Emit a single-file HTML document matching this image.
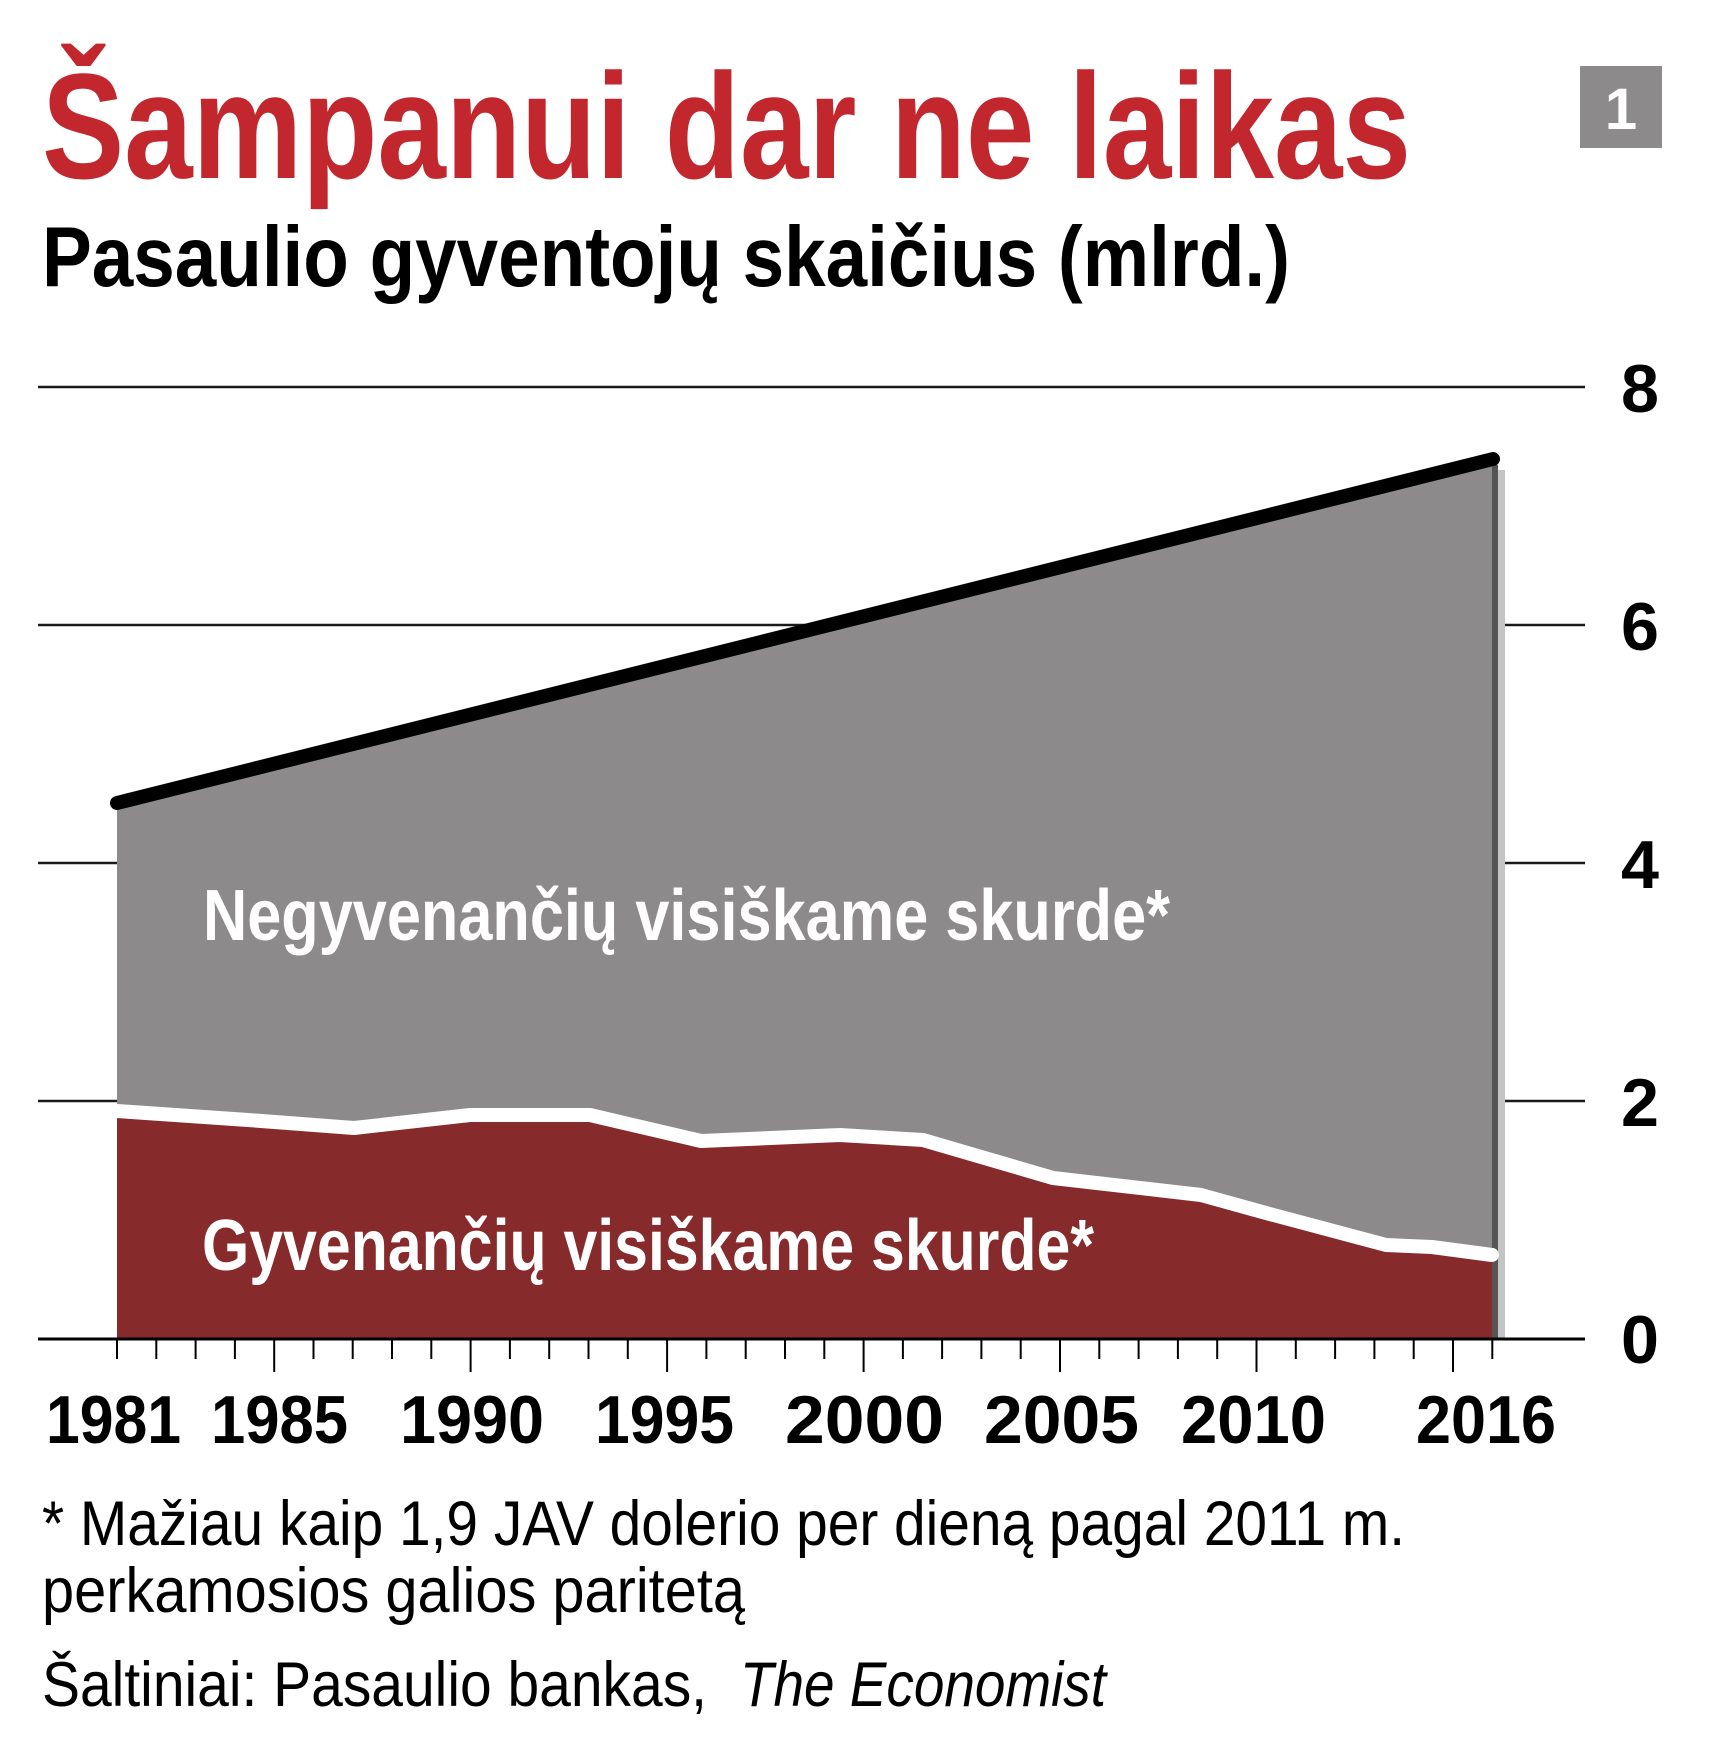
<!DOCTYPE html>
<html><head><meta charset="utf-8"><style>
html,body{margin:0;padding:0;background:#fff;}
svg{display:block;}
text{font-family:"Liberation Sans Narrow","Liberation Sans",sans-serif;}
</style></head><body>
<svg width="1719" height="1753" viewBox="0 0 1719 1753" xmlns="http://www.w3.org/2000/svg">
<rect width="1719" height="1753" fill="#fff"/>
<text x="42" y="178" font-size="150" font-weight="bold" fill="#c1272d" textLength="1369" lengthAdjust="spacingAndGlyphs">Šampanui dar ne laikas</text>
<text x="42" y="286" font-size="85" font-weight="bold" fill="#000" textLength="1248" lengthAdjust="spacingAndGlyphs">Pasaulio gyventojų skaičius (mlrd.)</text>
<rect x="1580" y="66" width="82" height="82" fill="#8c8a8b"/>
<text x="1621" y="129" font-size="58" font-weight="bold" fill="#fff" text-anchor="middle">1</text>

<g stroke="#1a1a1a" stroke-width="2.5">
<line x1="38" y1="387" x2="1585" y2="387"/>
<line x1="38" y1="625" x2="1585" y2="625"/>
<line x1="38" y1="863" x2="1585" y2="863"/>
<line x1="38" y1="1101" x2="1585" y2="1101"/>
</g>

<!-- gray area -->
<polygon points="117,803 1493,459 1493,1339 117,1339" fill="#8d8a8b"/>
<rect x="1492" y="465" width="6" height="874" fill="#555"/>
<rect x="1498" y="470" width="7" height="869" fill="#c4c4c4"/>
<!-- red area -->
<polygon points="117,1111 248,1120 354,1128 470,1115 590,1115 701,1141 840,1135 923,1140 1053,1178 1201,1195 1266,1213 1386,1245 1432,1247 1492,1255 1492,1339 117,1339" fill="#862a2c"/>
<polyline points="117,1111 248,1120 354,1128 470,1115 590,1115 701,1141 840,1135 923,1140 1053,1178 1201,1195 1266,1213 1386,1245 1432,1247 1492,1255" fill="none" stroke="#fff" stroke-width="14" stroke-linejoin="round" stroke-linecap="round"/>
<line x1="117" y1="803" x2="1493" y2="459" stroke="#000" stroke-width="14" stroke-linecap="round"/>

<line x1="38" y1="1339" x2="1585" y2="1339" stroke="#000" stroke-width="3"/>

<text x="203" y="940" font-size="72" font-weight="bold" fill="#fff" textLength="967" lengthAdjust="spacingAndGlyphs">Negyvenančių visiškame skurde*</text>
<text x="202" y="1270" font-size="72" font-weight="bold" fill="#fff" textLength="892" lengthAdjust="spacingAndGlyphs">Gyvenančių visiškame skurde*</text>

<g stroke="#000" stroke-width="2">
<line x1="117" y1="1339" x2="117" y2="1359"/><line x1="156.3" y1="1339" x2="156.3" y2="1359"/><line x1="195.6" y1="1339" x2="195.6" y2="1359"/><line x1="234.9" y1="1339" x2="234.9" y2="1359"/><line x1="274.2" y1="1339" x2="274.2" y2="1372"/><line x1="313.5" y1="1339" x2="313.5" y2="1359"/><line x1="352.7" y1="1339" x2="352.7" y2="1359"/><line x1="392" y1="1339" x2="392" y2="1359"/><line x1="431.3" y1="1339" x2="431.3" y2="1359"/><line x1="470.6" y1="1339" x2="470.6" y2="1372"/><line x1="509.9" y1="1339" x2="509.9" y2="1359"/><line x1="549.2" y1="1339" x2="549.2" y2="1359"/><line x1="588.5" y1="1339" x2="588.5" y2="1359"/><line x1="627.8" y1="1339" x2="627.8" y2="1359"/><line x1="667.1" y1="1339" x2="667.1" y2="1372"/><line x1="706.4" y1="1339" x2="706.4" y2="1359"/><line x1="745.7" y1="1339" x2="745.7" y2="1359"/><line x1="785" y1="1339" x2="785" y2="1359"/><line x1="824.3" y1="1339" x2="824.3" y2="1359"/><line x1="863.6" y1="1339" x2="863.6" y2="1372"/><line x1="902.9" y1="1339" x2="902.9" y2="1359"/><line x1="942.1" y1="1339" x2="942.1" y2="1359"/><line x1="981.4" y1="1339" x2="981.4" y2="1359"/><line x1="1020.7" y1="1339" x2="1020.7" y2="1359"/><line x1="1060" y1="1339" x2="1060" y2="1372"/><line x1="1099.3" y1="1339" x2="1099.3" y2="1359"/><line x1="1138.6" y1="1339" x2="1138.6" y2="1359"/><line x1="1177.9" y1="1339" x2="1177.9" y2="1359"/><line x1="1217.2" y1="1339" x2="1217.2" y2="1359"/><line x1="1256.5" y1="1339" x2="1256.5" y2="1372"/><line x1="1295.8" y1="1339" x2="1295.8" y2="1359"/><line x1="1335.1" y1="1339" x2="1335.1" y2="1359"/><line x1="1374.4" y1="1339" x2="1374.4" y2="1359"/><line x1="1413.7" y1="1339" x2="1413.7" y2="1359"/><line x1="1453" y1="1339" x2="1453" y2="1372"/><line x1="1492.3" y1="1339" x2="1492.3" y2="1359"/>
</g>

<g font-size="68" font-weight="bold" fill="#000" text-anchor="middle">
<text x="1640" y="412" textLength="38" lengthAdjust="spacingAndGlyphs">8</text>
<text x="1640" y="650" textLength="38" lengthAdjust="spacingAndGlyphs">6</text>
<text x="1640" y="888" textLength="38" lengthAdjust="spacingAndGlyphs">4</text>
<text x="1640" y="1126" textLength="38" lengthAdjust="spacingAndGlyphs">2</text>
<text x="1640" y="1363" textLength="38" lengthAdjust="spacingAndGlyphs">0</text>
</g>

<g font-size="68" font-weight="bold" fill="#000">
<text x="46" y="1443" textLength="135" lengthAdjust="spacingAndGlyphs">1981</text>
<text x="211" y="1443" textLength="137" lengthAdjust="spacingAndGlyphs">1985</text>
<text x="400" y="1443" textLength="144" lengthAdjust="spacingAndGlyphs">1990</text>
<text x="595" y="1443" textLength="139" lengthAdjust="spacingAndGlyphs">1995</text>
<text x="785" y="1443" textLength="159" lengthAdjust="spacingAndGlyphs">2000</text>
<text x="984" y="1443" textLength="155" lengthAdjust="spacingAndGlyphs">2005</text>
<text x="1181" y="1443" textLength="145" lengthAdjust="spacingAndGlyphs">2010</text>
<text x="1416" y="1443" textLength="140" lengthAdjust="spacingAndGlyphs">2016</text>
</g>

<g font-size="63" fill="#000">
<text x="42" y="1545" textLength="1363" lengthAdjust="spacingAndGlyphs">* Mažiau kaip 1,9 JAV dolerio per dieną pagal 2011 m.</text>
<text x="42" y="1612" textLength="703" lengthAdjust="spacingAndGlyphs">perkamosios galios paritetą</text>
<text x="42" y="1706" textLength="665" lengthAdjust="spacingAndGlyphs">Šaltiniai: Pasaulio bankas,</text>
<text x="740" y="1706" font-style="italic" textLength="366" lengthAdjust="spacingAndGlyphs">The Economist</text>
</g>
</svg>
</body></html>
